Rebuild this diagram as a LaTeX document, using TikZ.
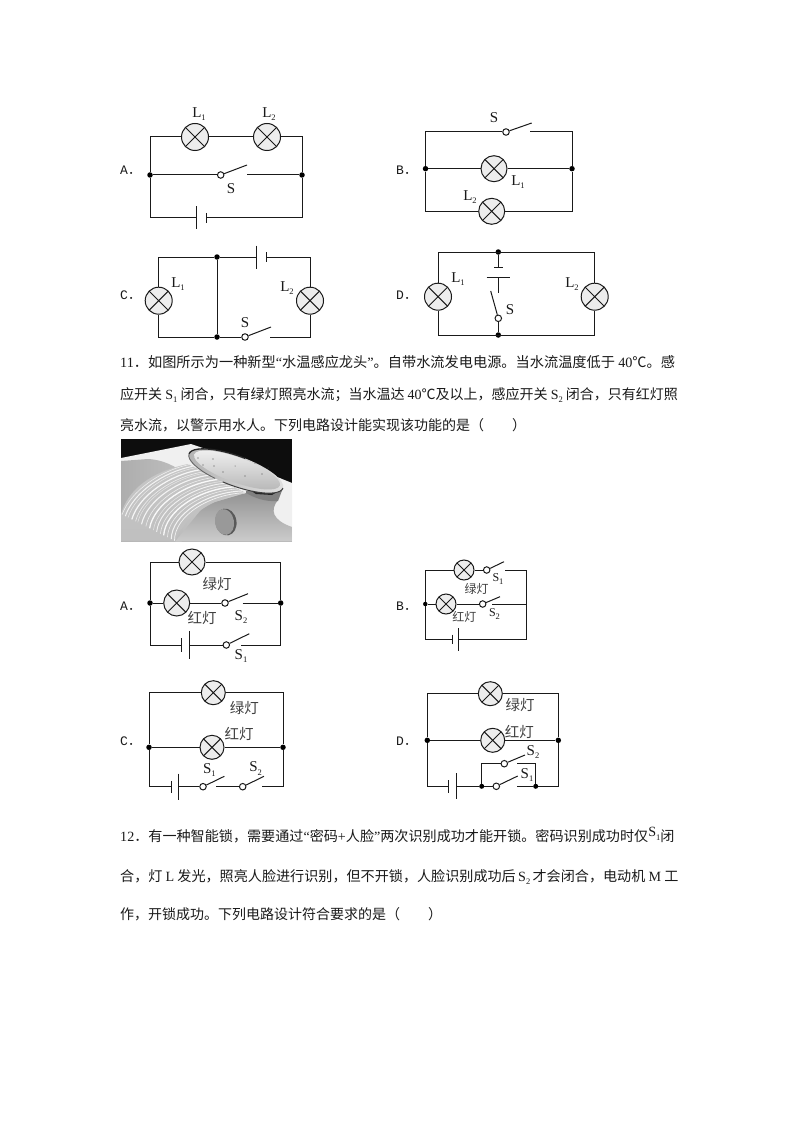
\documentclass[tikz,border=0pt]{standalone}
\usepackage{fontspec}
\setmainfont{Liberation Serif}
\newfontfamily\cjk{Noto Sans CJK SC}
\newfontfamily\monof{Liberation Mono}
\usetikzlibrary{calc}
\definecolor{ink}{HTML}{1A1A1A}
\tikzset{
  wire/.style={draw=ink,line width=1pt},
  lampnode/.style={circle,draw=ink,line width=1pt,fill=black!7,inner sep=0pt,minimum size=#1,
    path picture={\draw[ink,line width=1pt] (path picture bounding box.north west)--(path picture bounding box.south east)
      (path picture bounding box.north east)--(path picture bounding box.south west);}},
  dotnode/.style={circle,fill=black,inner sep=0pt,minimum size=5.5pt},
  pivotnode/.style={circle,draw=ink,line width=1pt,fill=white,inner sep=0pt,minimum size=6.5pt},
  optlabel/.style={font=\monof\fontsize{13}{13}\selectfont,anchor=west,text=ink,inner sep=0pt},
  symlabel/.style={font=\fontsize{15}{15}\selectfont,anchor=center,text=ink,inner sep=0pt},
  cnlabel/.style={font=\cjk\fontsize{14.5}{14.5}\selectfont,anchor=center,text=black!75,inner sep=0pt},
  para/.style={font=\cjk\fontsize{14}{14}\selectfont,anchor=west,inner sep=0pt,text=ink},
}
\newcommand{\swt}[5]{% name, pivot xy, arm xy, resume xy
  \node[pivotnode] (#1) at (#2) {};
  \coordinate (#1-arm) at (#3);
  \coordinate (#1-res) at (#4);
  \draw[wire] (#1) -- (#1-arm);
}
\newcommand{\hbatt}[7]{% name, xshort, xlong, y, hshort, hlong
  \coordinate (#1-s) at (#2,#4);
  \coordinate (#1-l) at (#3,#4);
  \draw[wire] ($(#1-s)+(0,-#5)$) -- ($(#1-s)+(0,#5)$);
  \draw[wire] ($(#1-l)+(0,-#6)$) -- ($(#1-l)+(0,#6)$);
}
\newcommand{\SUB}[1]{\raisebox{-0.25em}{\fontsize{8.5}{8.5}\selectfont #1}}
\newcommand{\Lb}[1]{L\SUB{#1}}
\newcommand{\Sb}[1]{S\SUB{#1}}
\newcommand{\Opt}[1]{#1{\cjk ．}}
\newcommand{\Lat}[1]{{\rmfamily #1}}
\begin{document}
\begin{tikzpicture}[x=1pt,y=-1pt]
\useasboundingbox (0,0) rectangle (794,1123);
\fill[white] (0,0) rectangle (794,1123);

% ---------- Q10 A
\node[optlabel] (oA1) at (120,170) {\Opt{A}};
\coordinate (a1TL) at (150,137); \coordinate (a1TR) at (302,137);
\node[dotnode] (a1ML) at (150,175) {}; \node[dotnode] (a1MR) at (302,175) {};
\coordinate (a1BL) at (150,218); \coordinate (a1BR) at (302,218);
\node[lampnode=27pt] (a1L1) at (195,137) {}; \node[lampnode=27pt] (a1L2) at (267,137) {};
\hbatt{a1B}{206}{196}{218}{5}{11.5}{}
\swt{a1S}{220.7,175}{247,165}{247,175}{}
\draw[wire] (a1L1) -- (a1TL) -- (a1ML) -- (a1BL) -- (a1B-l);
\draw[wire] (a1L1) -- (a1L2) -- (a1TR) -- (a1MR) -- (a1BR) -- (a1B-s);
\draw[wire] (a1ML) -- (a1S); \draw[wire] (a1S-res) -- (a1MR);
\node[symlabel] (a1t1) at (199,114) {\Lb{1}};
\node[symlabel] (a1t2) at (269,114) {\Lb{2}};
\node[symlabel] (a1t3) at (231,189) {S};

% ---------- Q10 B
\node[optlabel] (oB1) at (396,170) {\Opt{B}};
\coordinate (b1TL) at (425.5,132); \coordinate (b1TR) at (572,132);
\node[dotnode] (b1ML) at (425.5,168.7) {}; \node[dotnode] (b1MR) at (572,168.7) {};
\coordinate (b1BL) at (425.5,211.3); \coordinate (b1BR) at (572,211.3);
\node[lampnode=26pt] (b1L1) at (494,168.7) {}; \node[lampnode=26pt] (b1L2) at (491.7,211.3) {};
\swt{b1S}{506,132}{531.7,123}{530,132}{}
\draw[wire] (b1S) -- (b1TL) -- (b1ML) -- (b1BL) -- (b1L2) -- (b1BR) -- (b1MR) -- (b1TR) -- (b1S-res);
\draw[wire] (b1ML) -- (b1L1) -- (b1MR);
\node[symlabel] (b1t1) at (494,118) {S};
\node[symlabel] (b1t2) at (518,182) {\Lb{1}};
\node[symlabel] (b1t3) at (470,197) {\Lb{2}};

% ---------- Q10 C
\node[optlabel] (oC1) at (120,295) {\Opt{C}};
\coordinate (c1TL) at (158.7,257); \coordinate (c1TR) at (310,257);
\coordinate (c1BL) at (158.7,337); \coordinate (c1BR) at (310,337);
\node[dotnode] (c1MT) at (217,257) {}; \node[dotnode] (c1MB) at (217,337) {};
\node[lampnode=27pt] (c1L1) at (158.7,300.7) {}; \node[lampnode=27pt] (c1L2) at (310,300.7) {};
\hbatt{c1B}{266.7}{256.7}{257}{5}{11.5}{}
\swt{c1S}{245,337}{271,327}{270,337}{}
\draw[wire] (c1L1) -- (c1TL) -- (c1MT) -- (c1B-l);
\draw[wire] (c1B-s) -- (c1TR) -- (c1L2) -- (c1BR) -- (c1S-res);
\draw[wire] (c1S) -- (c1MB) -- (c1BL) -- (c1L1);
\draw[wire] (c1MT) -- (c1MB);
\node[symlabel] (c1t1) at (178,284) {\Lb{1}};
\node[symlabel] (c1t2) at (287,288) {\Lb{2}};
\node[symlabel] (c1t3) at (245,323) {S};

% ---------- Q10 D
\node[optlabel] (oD1) at (396,295) {\Opt{D}};
\coordinate (d1TL) at (438,252); \coordinate (d1TR) at (594.7,252);
\coordinate (d1BL) at (438,335); \coordinate (d1BR) at (594.7,335);
\node[dotnode] (d1MT) at (498.3,252) {}; \node[dotnode] (d1MB) at (498.3,335) {};
\node[lampnode=27pt] (d1L1) at (438,296.7) {}; \node[lampnode=27pt] (d1L2) at (594.7,296.7) {};
\coordinate (d1Bs) at (498.3,267); \coordinate (d1Bl) at (498.3,277.7);
\draw[wire] (494,267) -- (503,267);
\draw[wire] (486.7,277.7) -- (510,277.7);
\coordinate (d1Be) at (498.3,293);
\node[pivotnode] (d1S) at (498.3,318.3) {};
\coordinate (d1Sa) at (490.7,291);
\draw[wire] (d1S) -- (d1Sa);
\draw[wire] (d1MT) -- (d1Bs); \draw[wire] (d1Bl) -- (d1Be); \draw[wire] (d1S) -- (d1MB);
\draw[wire] (d1L1) -- (d1TL) -- (d1TR) -- (d1L2) -- (d1BR) -- (d1BL) -- (d1L1);
\node[symlabel] (d1t1) at (458,279) {\Lb{1}};
\node[symlabel] (d1t2) at (572,284) {\Lb{2}};
\node[symlabel] (d1t3) at (510,310) {S};

% ---------- Q11 text
\node[para,font=\cjk\fontsize{14.2}{14.2}\selectfont] (q11a) at (120,362) {\Lat{11}．如图所示为一种新型\Lat{“}水温感应龙头\Lat{”}。自带水流发电电源。当水流温度低于 \Lat{40}℃。感};
\node[para] (q11b) at (120,395) {应开关 \Lat{S\SUB{1}} 闭合，只有绿灯照亮水流；当水温达 \Lat{40}℃及以上，感应开关 \Lat{S\SUB{2}} 闭合，只有红灯照};
\node[para] (q11c) at (120,425) {亮水流，以警示用水人。下列电路设计能实现该功能的是（\hspace{2em}）};

% ---------- photo
\begin{scope}
\clip (121,439) rectangle (292,541.7);
\fill[black!95] (121,439) rectangle (292,541.7);
% upper rim of the basin
\fill[black!6] (121,458) -- (191,444) -- (218,453) -- (292,483) -- (292,541.7) -- (121,541.7) -- cycle;
% basin interior
\shade[left color=black!32,right color=black!18] (121,461) -- (148,459) .. controls (165,460) and (172,466) .. (185,472) -- (250,496) -- (181,541.7) -- (121,541.7) -- cycle;
% surface under the water
\shade[top color=black!42,bottom color=black!20] (175,541.7) -- (205,505) -- (246,493) -- (278,500) .. controls (270,510) and (272,520) .. (292,527) -- (292,541.7) -- cycle;
% water
\shade[top color=black!22,bottom color=black!25] (188,464) .. controls (150,472) and (128,490) .. (121,514) -- (121,541.7) -- (175,541.7) .. controls (185,515) and (215,497) .. (246,493) -- cycle;
\foreach \t/\w/\o in {0.02/0.6/0.7,0.08/1/0.8,0.13/0.5/0.6,0.2/1.2/0.85,0.27/0.6/0.7,0.31/0.5/0.55,0.38/1.1/0.8,0.46/0.6/0.7,0.53/1.3/0.9,0.6/0.5/0.6,0.66/0.9/0.8,0.73/0.6/0.7,0.79/1.3/0.9,0.86/0.6/0.7,0.93/1/0.8,0.99/0.7/0.8}{
  \pgfmathsetmacro{\sx}{188+58*\t}\pgfmathsetmacro{\sy}{464+29*\t}
  \pgfmathsetmacro{\ex}{121+54*\t}\pgfmathsetmacro{\ey}{514+27*\t}
  \pgfmathsetmacro{\cax}{160+50*\t}\pgfmathsetmacro{\cay}{470+24*\t}
  \pgfmathsetmacro{\cbx}{130+45*\t}\pgfmathsetmacro{\cby}{490+26*\t}
  \draw[white,line width=\w pt,opacity=\o] (\sx,\sy) .. controls (\cax,\cay) and (\cbx,\cby) .. (\ex,\ey);
}
% neck and chrome
\fill[black!50] (246,491) -- (283,488) -- (278,501) .. controls (265,502) and (255,498) .. (246,493) -- cycle;
\fill[black!85] (250,490) -- (280,490) -- (272,495) -- (256,494) -- cycle;
% button
\fill[black!65,rotate around={10:(226,522)}] (226,522) ellipse (10.5 and 13.5);
\fill[black!40,rotate around={10:(224.5,522)}] (224.5,522) ellipse (9.5 and 13);
% faucet top
\shade[left color=black!30,right color=black!12,rotate around={-20:(236,471)}] (236,471) ellipse (50 and 15);
\shade[top color=black!6,bottom color=black!28,rotate around={-20:(237,470)}] (237,470) ellipse (45.5 and 12.5);
\draw[black!85,line width=1.3pt,rotate around={-20:(236,471)}] (186,471) arc[start angle=180,end angle=275,x radius=50,y radius=15];
\draw[black!60,line width=0.9pt,rotate around={-20:(236,471)}] (186,471) arc[start angle=180,end angle=110,x radius=50,y radius=15];
\draw[black!75,line width=1pt,rotate around={-20:(236,471)}] (286,471) arc[start angle=0,end angle=100,x radius=50,y radius=15];
\fill[black!70] (198,458) circle (0.7) (213,459) circle (0.7) (214,466) circle (0.6) (203,465) circle (0.6) (223,472) circle (0.6) (245,476) circle (0.7) (262,474) circle (0.6) (255,463) circle (0.6) (268,468) circle (0.5) (235,466) circle (0.5);
\end{scope}

% ---------- Q11 A
\node[optlabel] (oA2) at (120,606) {\Opt{A}};
\coordinate (a2TL) at (150,562); \coordinate (a2TR) at (280.7,562);
\node[dotnode] (a2ML) at (150,603) {}; \node[dotnode] (a2MR) at (280.7,603) {};
\coordinate (a2BL) at (150,645); \coordinate (a2BR) at (280.7,645);
\node[lampnode=26pt] (a2G) at (192,562) {}; \node[lampnode=26pt] (a2R) at (176.7,603) {};
\swt{a2S2}{225,603}{248,593.7}{242.7,603}{}
\swt{a2S1}{226.3,645}{249.3,633.7}{241,645}{}
\hbatt{a2B}{181.7}{189.3}{645}{7}{14.2}{}
\draw[wire] (a2G) -- (a2TL) -- (a2ML) -- (a2BL) -- (a2B-s);
\draw[wire] (a2G) -- (a2TR) -- (a2MR) -- (a2BR) -- (a2S1-res);
\draw[wire] (a2ML) -- (a2R) -- (a2S2); \draw[wire] (a2S2-res) -- (a2MR);
\draw[wire] (a2B-l) -- (a2S1);
\node[cnlabel] (a2t1) at (217,584) {绿灯};
\node[cnlabel] (a2t2) at (202,617.7) {红灯};
\node[symlabel] (a2t3) at (241,617) {\Sb{2}};
\node[symlabel] (a2t4) at (241,656) {\Sb{1}};

% ---------- Q11 B
\node[optlabel] (oB2) at (396,606) {\Opt{B}};
\coordinate (b2TL) at (425.3,570); \coordinate (b2TR) at (526.7,570);
\node[dotnode,minimum size=4.5pt] (b2ML) at (425.3,604) {}; \coordinate (b2MR) at (526.7,604);
\coordinate (b2BL) at (425.3,639.3); \coordinate (b2BR) at (526.7,639.3);
\node[lampnode=20pt] (b2G) at (464,570) {}; \node[lampnode=20pt] (b2R) at (446,604) {};
\swt{b2S1}{486.7,570}{504,561.7}{505,570}{}
\swt{b2S2}{482.7,604}{500,596.7}{492,604}{}
\hbatt{b2B}{452.3}{458}{639.3}{4.7}{11.3}{}
\draw[wire] (b2G) -- (b2TL) -- (b2ML) -- (b2BL) -- (b2B-s);
\draw[wire] (b2G) -- (b2S1); \draw[wire] (b2S1-res) -- (b2TR) -- (b2BR) -- (b2B-l);
\draw[wire] (b2ML) -- (b2R) -- (b2S2); \draw[wire] (b2S2-res) -- (b2MR);
\node[cnlabel,font=\cjk\fontsize{12}{12}\selectfont] (b2t1) at (476.7,589.3) {绿灯};
\node[cnlabel,font=\cjk\fontsize{12}{12}\selectfont] (b2t2) at (464.3,616.7) {红灯};
\node[symlabel,font=\fontsize{12}{12}\selectfont] (b2t3) at (498,579.5) {\Sb{1}};
\node[symlabel,font=\fontsize{12}{12}\selectfont] (b2t4) at (494.5,614) {\Sb{2}};

% ---------- Q11 C
\node[optlabel] (oC2) at (120,741) {\Opt{C}};
\coordinate (c2TL) at (149,692.7); \coordinate (c2TR) at (283,692.7);
\node[dotnode] (c2ML) at (149,747.3) {}; \node[dotnode] (c2MR) at (283,747.3) {};
\coordinate (c2BL) at (149,786.7); \coordinate (c2BR) at (283,786.7);
\node[lampnode=24pt] (c2G) at (213.3,692.7) {}; \node[lampnode=24pt] (c2R) at (212,747.3) {};
\hbatt{c2B}{171}{178.3}{786.7}{5.8}{13}{}
\swt{c2S1}{203,786.7}{224.3,776.3}{216,786.7}{}
\swt{c2S2}{242.7,786.7}{264,776.3}{262,786.7}{}
\draw[wire] (c2G) -- (c2TL) -- (c2ML) -- (c2BL) -- (c2B-s);
\draw[wire] (c2G) -- (c2TR) -- (c2MR) -- (c2BR) -- (c2S2-res);
\draw[wire] (c2ML) -- (c2R) -- (c2MR);
\draw[wire] (c2B-l) -- (c2S1); \draw[wire] (c2S1-res) -- (c2S2);
\node[cnlabel] (c2t1) at (244.3,707.7) {绿灯};
\node[cnlabel] (c2t2) at (239,734.3) {红灯};
\node[symlabel] (c2t3) at (209.3,770) {\Sb{1}};
\node[symlabel] (c2t4) at (255.7,768.5) {\Sb{2}};

% ---------- Q11 D
\node[optlabel] (oD2) at (396,741) {\Opt{D}};
\coordinate (d2TL) at (427.3,693.7); \coordinate (d2TR) at (558.3,693.7);
\node[dotnode] (d2ML) at (427.3,740.3) {}; \node[dotnode] (d2MR) at (558.3,740.3) {};
\coordinate (d2BL) at (427.3,786.3); \coordinate (d2BR) at (558.3,786.3);
\node[lampnode=24pt] (d2G) at (490.3,693.7) {}; \node[lampnode=24pt] (d2R) at (492.7,740.3) {};
\hbatt{d2B}{448.3}{456}{786.3}{6.3}{13}{}
\node[dotnode,minimum size=5pt] (d2J1) at (481.7,786.3) {}; \node[dotnode,minimum size=5pt] (d2J2) at (535.7,786.3) {};
\coordinate (d2IL) at (481.7,763.7); \coordinate (d2IR) at (535.7,763.7);
\swt{d2S2}{504.3,763.7}{525,755}{517,763.7}{}
\swt{d2S1}{496.3,786.3}{517.7,776}{517,786.3}{}
\draw[wire] (d2G) -- (d2TL) -- (d2ML) -- (d2BL) -- (d2B-s);
\draw[wire] (d2G) -- (d2TR) -- (d2MR) -- (d2BR) -- (d2J2);
\draw[wire] (d2ML) -- (d2R) -- (d2MR);
\draw[wire] (d2B-l) -- (d2J1) -- (d2S1); \draw[wire] (d2S1-res) -- (d2J2) -- (d2IR) -- (d2S2-res);
\draw[wire] (d2S2) -- (d2IL) -- (d2J1);
\node[cnlabel] (d2t1) at (520,705) {绿灯};
\node[cnlabel] (d2t2) at (519.3,731.7) {红灯};
\node[symlabel] (d2t3) at (533,752) {\Sb{2}};
\node[symlabel] (d2t4) at (527,775) {\Sb{1}};

% ---------- Q12 text
\node[para,font=\cjk\fontsize{14.1}{14.1}\selectfont] (q12a) at (120,835) {\Lat{12}．有一种智能锁，需要通过\Lat{“}密码\Lat{+}人脸\Lat{”}两次识别成功才能开锁。密码识别成功时仅\raisebox{0.3em}{\Lat{S\SUB{1}}}闭};
\node[para,font=\cjk\fontsize{14.1}{14.1}\selectfont] (q12b) at (120,877) {合，灯 \Lat{L} 发光，照亮人脸进行识别，但不开锁，人脸识别成功后\,\Lat{S\SUB{2}}\,才会闭合，电动机 \Lat{M} 工};
\node[para] (q12c) at (120,914) {作，开锁成功。下列电路设计符合要求的是（\hspace{2em}）};
\end{tikzpicture}
\end{document}
